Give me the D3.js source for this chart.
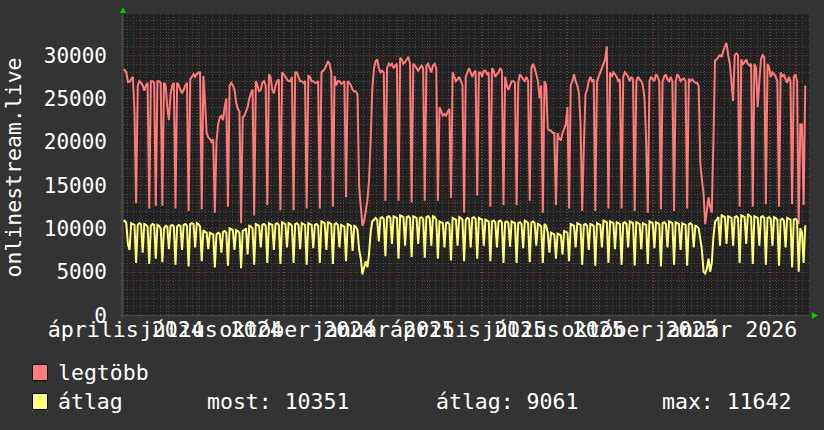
<!DOCTYPE html>
<html><head><meta charset="utf-8">
<script src="https://cdn.jsdelivr.net/npm/d3@7/dist/d3.min.js"></script>
<style>html,body{margin:0;padding:0;background:#333333;}svg{display:block;}</style>
</head><body>
<svg id="chart" width="824" height="430"></svg>
<script>
// ---- data (one sample every 1.75 days) ----
const startDate = new Date(2024, 2, 14);
const endDate = new Date(2026, 2, 16);
const stepDays = 1.75;
const legtobb = [
28300,28300,28000,26900,26900,27200,27500,23600,
12900,26500,27000,26800,26500,25900,26500,26800,
12300,27000,27000,26800,12600,27000,27000,26800,
12600,26800,26500,24000,22500,25500,26500,26800,
12300,26800,26500,26000,25600,26000,26500,26800,
12000,27200,27500,27800,27500,27800,28000,28000,
12200,27600,24600,21000,20500,20300,20000,20300,
11800,20000,22000,22800,23000,22500,24000,25000,
12500,26500,26800,26500,26000,24500,23800,23500,
10600,22800,23000,23500,24000,25000,25600,26000,
11500,27000,26500,25800,26000,26800,27000,26500,
12700,27800,27500,26000,25600,26500,27000,27200,
12100,28000,27800,27500,27200,27000,27000,27500,
12100,28000,28000,27500,27000,27000,26800,27000,
12300,27600,27500,27000,27000,26800,26800,27000,
12300,28000,28200,28400,28800,29300,29000,28000,
12500,27600,26500,27000,27000,26700,26800,27000,
13600,27000,26800,26500,26000,25800,25800,25500,
14800,12500,10300,10800,12000,13200,15500,20000,
26000,28400,29300,29500,28500,28000,28200,28000,
13200,28500,29000,28800,29000,28500,28800,29000,
13200,29700,29500,29000,29200,29500,29800,29000,
13000,29000,28800,28500,28200,28500,28800,28500,
13200,28800,29000,28500,28000,28800,29000,28500,
13200,24000,23500,23000,23200,23000,23500,23800,
13500,28000,27500,27000,27200,27500,27000,26500,
11800,27500,28000,28500,28000,27500,28000,28200,
13800,28000,28000,27500,28200,28200,27800,28000,
12500,28500,28200,27500,27800,28000,28500,28200,
12700,27500,26500,26000,26500,27000,27000,26800,
12700,26800,27800,27500,27200,27000,27500,27000,
13200,28500,29000,28500,27800,27000,25000,26500,
11800,27000,26500,21500,21300,21300,21000,21000,
12700,21000,20300,20200,21000,21500,22000,24000,
12300,26500,27000,27800,27000,26500,25600,22000,
12000,19500,25500,26000,27000,27500,27000,27200,
12000,27000,27500,28000,28500,29000,29500,31000,
12300,28000,27500,28000,27800,27500,27000,27200,
12300,27500,28000,27800,27500,27000,27500,27200,
12000,27000,27500,27200,27000,26500,25000,20000,
11800,27000,27500,27200,27000,27800,27500,27000,
12200,27000,27500,27800,27200,27000,27500,27000,
12000,27000,27800,27500,27000,27200,27300,27000,
12300,27300,27000,27200,27000,26800,26800,26500,
17500,15600,14000,10500,12000,13600,12500,11800,
20000,29400,29500,29800,30000,29800,30500,31000,
31400,30000,29000,27000,24700,30000,30200,30000,
12500,29500,29000,29200,29500,29000,28800,29000,
12500,29000,28500,24000,27000,29500,30000,29800,
12800,29000,28500,27500,28000,27800,27500,27000,
12500,28000,27500,27800,27200,26800,27500,27000,
12800,27500,27800,27000,10500,22000,22000,12700,
26500];
const atlag = [
10800,10900,10600,8200,7500,10600,10500,10400,
6000,10400,10600,10500,7200,10500,10400,10200,
5900,10300,10500,10400,6500,10400,10300,10000,
6100,10000,10300,10200,7600,10300,10400,10200,
5800,10200,10400,10300,7500,10400,10500,10300,
5600,10500,10600,10500,7800,10600,10500,10200,
6200,9800,9600,9500,7600,9500,9400,9300,
5500,9300,9500,9400,7200,9600,9700,9500,
5700,10000,9900,9800,7500,9800,9700,9500,
5400,9700,9800,10000,7000,10300,10200,10000,
5800,10500,10400,10300,7800,10400,10500,10300,
6000,10600,10500,10400,7500,10500,10600,10400,
5900,10700,10600,10500,7800,10600,10500,10300,
6000,10500,10600,10400,7600,10600,10500,10400,
5800,10600,10500,10400,7700,10400,10500,10300,
6000,10800,10700,10600,7500,10700,10600,10500,
5900,10500,10600,10400,7800,10400,10300,10200,
6200,10500,10400,10300,7400,10300,10200,9800,
7500,6500,4700,5500,6200,5500,7000,9500,
10800,11000,11200,11000,8500,11200,11300,11100,
6800,11300,11400,11200,8200,11400,11300,11200,
6500,11500,11400,11300,8000,11300,11400,11200,
6700,11400,11300,11200,8200,11200,11300,11100,
6600,11300,11400,11200,8000,11400,11300,11000,
6500,10800,10700,10600,7800,10600,10700,10500,
6300,11200,11100,11000,8000,11300,11200,11000,
6200,11000,11200,11100,7800,11200,11300,11100,
6500,11200,11100,11000,8000,11000,10900,10800,
6200,10800,10900,10700,7800,10800,10900,10700,
6000,10700,10800,10600,7900,10800,10700,10600,
6000,10600,10700,10500,7700,10900,10800,10600,
6100,10700,10800,10600,8000,10500,10400,10200,
6000,10500,10300,9500,7200,9500,9400,9300,
6500,9400,9300,9200,7000,9700,9600,9500,
6200,10500,10400,10300,7800,10600,10500,10400,
5800,10400,10500,10300,7500,10500,10400,10300,
5700,10600,10500,10400,7800,10900,10800,10700,
6000,10800,10700,10600,7600,10700,10600,10500,
5800,10600,10700,10500,7800,10800,10700,10600,
5700,10700,10600,10500,7600,10600,10500,10400,
5900,10800,10700,10600,7700,10700,10600,10500,
5600,10600,10700,10500,7800,10800,10700,10600,
5800,10700,10600,10500,7500,10600,10500,10400,
5700,10500,10600,10400,7800,10300,10200,10000,
8800,7500,5000,4800,5300,6500,5000,6000,
9000,10800,11000,11300,8000,11500,11400,11300,
8200,11400,11300,11200,8000,11300,11400,11200,
6000,11500,11400,11300,8200,11642,11500,11300,
5900,11400,11300,11200,8000,11300,11400,11200,
5800,11200,11300,11100,8000,11300,11200,11000,
5700,11000,11100,10900,7800,11200,11100,11000,
5500,11000,11100,10900,5000,10000,9500,6000,
10351];
const yTicks = [0, 5000, 10000, 15000, 20000, 25000, 30000];
const xLabels = ["április 2024", "július 2024", "október 2024", "január 2025",
                 "április 2025", "július 2025", "október 2025", "január 2026"];
const xLabelDates = [new Date(2024,3,1), new Date(2024,6,1), new Date(2024,9,1), new Date(2025,0,1),
                     new Date(2025,3,1), new Date(2025,6,1), new Date(2025,9,1), new Date(2026,0,1)];
const seriesNames = ["legtöbb", "átlag"];
const seriesColors = ["#ff7b7b", "#ffff7b"];
const statLabels = ["most: 10351", "átlag: 9061", "max: 11642"];
const yTitle = "onlinestream.live";

// ---- layout ----
const W = 824, H = 430;
const L = 123, R = 809, T = 14, B = 315;
const yMax = 34750;
const svg = d3.select("#chart");
const FONT = "'DejaVu Sans Mono', monospace";

svg.append("rect").attr("width", W).attr("height", H).attr("fill", "#333333");
svg.append("rect").attr("x", L).attr("y", T).attr("width", R - L).attr("height", B - T).attr("fill", "#222222");

const x = d3.scaleTime().domain([startDate, endDate]).range([L, R]);
const y = d3.scaleLinear().domain([0, yMax]).range([B, T]);
const dayMs = 86400000;
const dateAt = i => new Date(startDate.getTime() + i * stepDays * dayMs);

// grid
const g = svg.append("g");
const minorY = d3.range(1000, yMax, 1000).filter(v => v % 5000 !== 0);
g.selectAll(".hmin").data(minorY).enter().append("line")
  .attr("x1", L - 2).attr("x2", R).attr("y1", d => Math.round(y(d)) + 0.5).attr("y2", d => Math.round(y(d)) + 0.5)
  .attr("stroke", "#4a4a4a").attr("stroke-dasharray", "1,2");
const weeks = d3.timeMonday.range(startDate, endDate);
g.selectAll(".vmin").data(weeks).enter().append("line")
  .attr("x1", d => Math.round(x(d)) + 0.5).attr("x2", d => Math.round(x(d)) + 0.5)
  .attr("y1", T).attr("y2", B + 2)
  .attr("stroke", "#4a4a4a").attr("stroke-dasharray", "1,2");
const months = d3.timeMonth.range(startDate, endDate);
g.selectAll(".vmaj").data(months).enter().append("line")
  .attr("x1", d => Math.round(x(d)) + 0.5).attr("x2", d => Math.round(x(d)) + 0.5)
  .attr("y1", T).attr("y2", B + 3)
  .attr("stroke", "#7a3434").attr("stroke-dasharray", "1,2");
g.selectAll(".hmaj").data(yTicks.filter(v => v > 0)).enter().append("line")
  .attr("x1", L - 3).attr("x2", R).attr("y1", d => Math.round(y(d)) + 0.5).attr("y2", d => Math.round(y(d)) + 0.5)
  .attr("stroke", "#7a3434").attr("stroke-dasharray", "1,2");

// series lines
const line = d3.line().x((d, i) => x(dateAt(i))).y(d => y(d));
[legtobb, atlag].forEach((s, k) => {
  svg.append("path").datum(s).attr("d", line)
    .attr("fill", "none").attr("stroke", seriesColors[k]).attr("stroke-width", 2)
    .attr("stroke-linejoin", "miter").attr("stroke-miterlimit", 2);
});

// axes lines + arrows
svg.append("line").attr("x1", L - 0.5).attr("x2", L - 0.5).attr("y1", T - 4).attr("y2", B + 3)
  .attr("stroke", "#4a4a4a").attr("stroke-width", 2);
svg.append("line").attr("x1", L - 3).attr("x2", R + 4).attr("y1", B + 0.5).attr("y2", B + 0.5)
  .attr("stroke", "#4a4a4a").attr("stroke-width", 1);
svg.append("path").attr("d", `M${L - 3},${T - 1} L${L + 3},${T - 1} L${L},${T - 7} Z`).attr("fill", "#00cc00");
svg.append("path").attr("d", `M${R + 3},${B - 3} L${R + 3},${B + 4} L${R + 9},${B + 0.5} Z`).attr("fill", "#00cc00");

// y tick labels
svg.selectAll(".ytl").data(yTicks).enter().append("text")
  .attr("x", 107).attr("y", d => y(d)).attr("dy", "0.36em")
  .attr("text-anchor", "end").attr("font-family", FONT).attr("font-size", 21)
  .attr("fill", "#ffffff").text(d => d);

// x labels
svg.selectAll(".xtl").data(xLabels).enter().append("text")
  .attr("x", (d, i) => x(xLabelDates[i]) - 14).attr("y", 337)
  .attr("text-anchor", "middle").attr("font-family", FONT).attr("font-size", 21.6)
  .attr("fill", "#ffffff").text(d => d);

// y title
svg.append("text").attr("transform", `translate(21,${(T + B) / 2 + 3}) rotate(-90)`)
  .attr("text-anchor", "middle").attr("font-family", FONT).attr("font-size", 21.5)
  .attr("fill", "#ffffff").text(yTitle);

// legend
const legY = [364, 393];
seriesNames.forEach((n, k) => {
  svg.append("rect").attr("x", 32.5).attr("y", legY[k] + 0.5).attr("width", 15).attr("height", 16)
    .attr("fill", seriesColors[k]).attr("stroke", "#000000").attr("stroke-width", 1);
  svg.append("text").attr("x", 58).attr("y", legY[k] + 16).attr("font-family", FONT).attr("font-size", 21.5)
    .attr("fill", "#ffffff").text(n);
});
const statX = [207, 436, 662];
statLabels.forEach((t, k) => {
  svg.append("text").attr("x", statX[k]).attr("y", legY[1] + 16).attr("font-family", FONT).attr("font-size", 21.5)
    .attr("fill", "#ffffff").text(t);
});
</script>
</body></html>
